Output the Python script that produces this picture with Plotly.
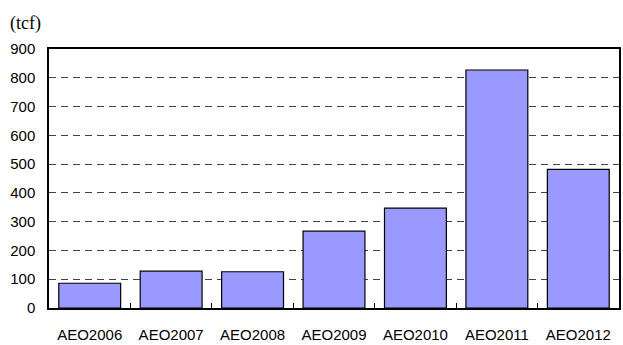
import plotly.graph_objects as go

categories = ["AEO2006", "AEO2007", "AEO2008", "AEO2009", "AEO2010", "AEO2011", "AEO2012"]
values = [86, 128, 126, 267, 347, 827, 482]
y_ticks = [0, 100, 200, 300, 400, 500, 600, 700, 800, 900]
unit_label = "(tcf)"

fig = go.Figure()
fig.add_trace(go.Bar(
    x=categories, y=values,
    marker=dict(color="#9999FF", line=dict(color="#000000", width=1.2)),
    width=0.76,
))

fig.update_layout(
    width=623, height=345,
    margin=dict(l=49, r=2, t=49, b=35),
    paper_bgcolor="white", plot_bgcolor="white",
    showlegend=False,
    font=dict(family="Liberation Sans, Arial", size=15, color="#000000"),
    xaxis=dict(
        type="category",
        showline=True, linecolor="#000000", linewidth=1.5, mirror=True,
        ticks="inside", ticklen=5, tickcolor="#000000", tickwidth=1, tickson="boundaries",
        showgrid=False,
        tickfont=dict(size=15),
        ticklabelstandoff=12,
        range=[-0.5, 6.5],
    ),
    yaxis=dict(
        range=[0, 900],
        tickvals=y_ticks,
        showline=True, linecolor="#000000", linewidth=1.5, mirror=True,
        showgrid=True, gridcolor="#444444", gridwidth=1, griddash="7px,5px",
        ticks="", ticklabelstandoff=9,
        tickfont=dict(size=15),
        zeroline=False,
    ),
    bargap=0.24,
)

fig.add_annotation(
    text=unit_label, xref="paper", yref="paper",
    x=-0.072, y=1.145, xanchor="left", yanchor="top",
    showarrow=False,
    font=dict(family="Liberation Serif, serif", size=18, color="#000000"),
)

fig.write_html("out.html")
